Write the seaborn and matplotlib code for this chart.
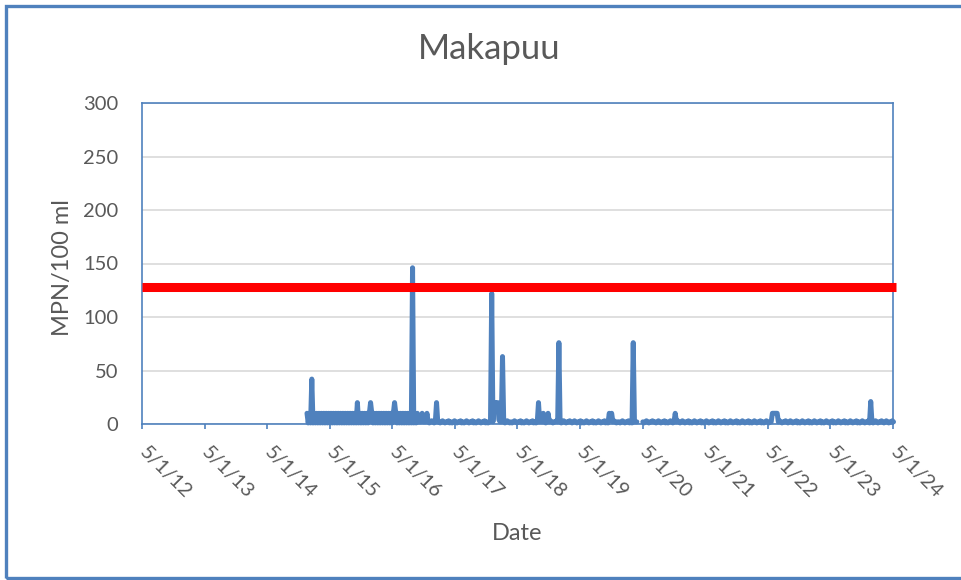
import pandas as pd
import numpy as np
import matplotlib
matplotlib.use("Agg")
import matplotlib.pyplot as plt
from matplotlib.patches import Rectangle
import seaborn as sns

# --------------------------
# Data
# --------------------------

# weekly samples, starting 20 Dec 2014
sample_start = "2014-12-20"
sample_step = "7D"

# MPN/100 ml per weekly sample (nan = no samples, spring 2020)
mpn = [
    10, 1, 10, 1, 42, 1, 10, 1, 10, 1,
    10, 1, 10, 1, 10, 1, 10, 1, 10, 1,
    10, 1, 10, 1, 10, 1, 10, 1, 10, 1,
    10, 1, 10, 1, 10, 1, 10, 1, 10, 1,
    10, 1, 20, 1, 10, 1, 10, 1, 10, 1,
    10, 1, 10, 20, 10, 1, 10, 1, 10, 1,
    10, 1, 10, 1, 10, 1, 10, 1, 10, 1,
    10, 1, 10, 20, 10, 1, 10, 1, 10, 1,
    10, 1, 10, 1, 10, 1, 10, 1, 146, 1,
    10, 1, 10, 2, 2, 2, 10, 2, 2, 2,
    10, 2, 1, 2, 3, 2, 1, 2, 20, 2,
    2, 1, 2, 3, 2, 1, 2, 2, 3, 1,
    2, 1, 2, 3, 2, 1, 2, 2, 3, 1,
    2, 1, 2, 3, 2, 1, 2, 2, 3, 1,
    2, 1, 2, 3, 2, 1, 2, 2, 3, 1,
    2, 1, 2, 3, 122, 2, 20, 20, 18, 20,
    4, 2, 2, 63, 2, 1, 2, 3, 2, 1,
    2, 1, 2, 3, 2, 1, 2, 2, 3, 1,
    2, 1, 2, 3, 2, 1, 2, 2, 3, 1,
    2, 1, 2, 20, 2, 3, 2, 10, 2, 1,
    2, 10, 2, 3, 2, 1, 2, 2, 3, 2,
    76, 2, 1, 2, 3, 2, 1, 2, 2, 3,
    2, 1, 2, 3, 2, 1, 2, 2, 3, 1,
    2, 1, 2, 3, 2, 1, 2, 2, 3, 1,
    2, 1, 2, 3, 2, 1, 2, 2, 3, 1,
    2, 1, 10, 6, 10, 2, 3, 2, 1, 2,
    2, 1, 2, 3, 2, 1, 2, 2, 3, 1,
    2, 1, 76, 2, 2, 2, np.nan, np.nan, np.nan, np.nan,
    2, 1, 2, 3, 2, 1, 2, 2, 3, 2,
    2, 1, 2, 3, 2, 1, 2, 2, 3, 1,
    2, 1, 2, 3, 2, 1, 2, 10, 2, 3,
    2, 1, 2, 3, 2, 1, 2, 2, 3, 1,
    2, 1, 2, 3, 2, 1, 2, 2, 3, 1,
    2, 1, 2, 3, 2, 1, 2, 2, 3, 1,
    2, 1, 2, 3, 2, 1, 2, 2, 3, 1,
    2, 1, 2, 3, 2, 1, 2, 2, 3, 1,
    2, 1, 2, 3, 2, 1, 2, 2, 3, 1,
    2, 1, 2, 3, 2, 1, 2, 2, 3, 1,
    2, 1, 2, 3, 2, 1, 2, 2, 10, 10,
    10, 10, 10, 2, 3, 2, 1, 2, 2, 3,
    2, 1, 2, 3, 2, 1, 2, 2, 3, 1,
    2, 1, 2, 3, 2, 1, 2, 2, 3, 1,
    2, 1, 2, 3, 2, 1, 2, 2, 3, 1,
    2, 1, 2, 3, 2, 1, 2, 2, 3, 1,
    2, 1, 2, 3, 2, 1, 2, 2, 3, 1,
    2, 1, 2, 3, 2, 1, 2, 2, 3, 1,
    2, 1, 2, 3, 2, 1, 2, 2, 3, 1,
    21, 2, 1, 2, 3, 2, 1, 2, 2, 3,
    2, 1, 2, 3, 2, 1, 2, 2, 3, 2,
]

# standard (red line)
threshold_dates = ["2012-05-01", "2024-05-20"]
threshold_values = [128, 128]

tick_dates = ["2012-05-01", "2013-05-01", "2014-05-01", "2015-05-01",
              "2016-05-01", "2017-05-01", "2018-05-01", "2019-05-01",
              "2020-05-01", "2021-05-01", "2022-05-01", "2023-05-01",
              "2024-05-01"]
tick_labels = ["5/1/12", "5/1/13", "5/1/14", "5/1/15", "5/1/16", "5/1/17",
               "5/1/18", "5/1/19", "5/1/20", "5/1/21", "5/1/22", "5/1/23",
               "5/1/24"]
y_ticks = [0, 50, 100, 150, 200, 250, 300]

BLUE = "#4F81BD"
GREY_TEXT = "#595959"

# --------------------------
# Build frame
# --------------------------

df = pd.DataFrame({
    "Date": pd.date_range(sample_start, periods=len(mpn), freq=sample_step),
    "MPN": mpn,
})
df["segment"] = df["MPN"].isna().cumsum()
df = df.dropna()

# --------------------------
# Plot
# --------------------------

sns.set_theme(style="white")
plt.rcParams["font.family"] = ["Lato", "DejaVu Sans"]

fig = plt.figure(figsize=(9.61, 5.80), dpi=100)
ax = fig.add_axes([142 / 961, 1 - 424 / 580, 751 / 961, 321 / 580])

sns.lineplot(data=df, x="Date", y="MPN", units="segment", estimator=None,
             color=BLUE, linewidth=3.6, solid_capstyle="round",
             solid_joinstyle="round", clip_on=False, zorder=3, ax=ax)
sns.lineplot(x=pd.to_datetime(threshold_dates), y=threshold_values,
             color="#FF0000", linewidth=6.5, solid_capstyle="butt",
             clip_on=False, zorder=4, ax=ax)

ax.set_xlim(pd.Timestamp(tick_dates[0]), pd.Timestamp(tick_dates[-1]))
ax.set_ylim(0, 300)
ax.set_yticks(y_ticks)
ax.set_xticks(pd.to_datetime(tick_dates))
ax.set_xticklabels(tick_labels, rotation=-45, ha="left", va="center",
                   rotation_mode="anchor")

ax.yaxis.grid(True, color="#D9D9D9", linewidth=1.2)
ax.xaxis.grid(False)
ax.set_axisbelow(True)
for side in ax.spines.values():
    side.set_color(BLUE)
    side.set_linewidth(1.2)

ax.tick_params(axis="x", direction="out", length=3.6, width=1.2,
               color=BLUE, pad=15, labelsize=14.5, labelcolor=GREY_TEXT,
               bottom=True)
ax.tick_params(axis="y", length=0, pad=17, labelsize=14.5,
               labelcolor=GREY_TEXT)
ax.set_xlabel("")
ax.set_ylabel("")

fig.text(489 / 961, 1 - 49 / 580, "Makapuu", ha="center", va="center",
         fontsize=25, color=GREY_TEXT)
fig.text(62 / 961, 1 - 268 / 580, "MPN/100 ml", rotation=90, ha="center",
         va="center", fontsize=17, color=GREY_TEXT)
fig.text(517 / 961, 1 - 533 / 580, "Date", ha="center", va="center",
         fontsize=17, color=GREY_TEXT)

# chart area border (right edge runs off the picture)
fig.patches.append(Rectangle((6 / 961, 2 / 580), 1.2, 1 - 8 / 580,
                             transform=fig.transFigure, fill=False,
                             edgecolor=BLUE, linewidth=2.4))

fig.savefig("out.png", dpi=100)
